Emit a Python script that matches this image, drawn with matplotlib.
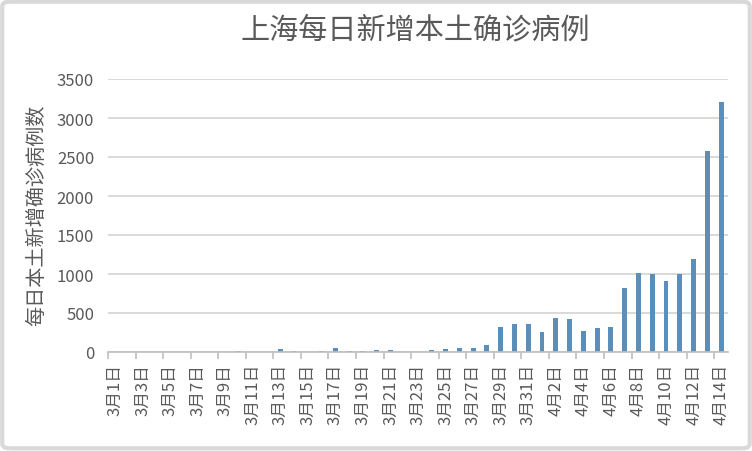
import matplotlib
matplotlib.use("Agg")
import matplotlib.pyplot as plt
from matplotlib.patches import FancyBboxPatch
import numpy as np

plt.rcParams['font.family'] = ['Noto Sans CJK SC', 'DejaVu Sans']
plt.rcParams['font.weight'] = 'light'

dates = [f"3月{d}日" for d in range(1, 32)] + [f"4月{d}日" for d in range(1, 15)]
cases = [1, 3, 2, 3, 0, 3, 4, 3, 4, 11, 5, 1, 41, 9, 5, 8, 57, 8, 17, 24,
         31, 4, 4, 29, 38, 45, 50, 96, 326, 355, 358,
         260, 438, 425, 268, 311, 322, 824, 1015, 1006, 914, 994, 1189, 2573, 3200]
yticks = [0, 500, 1000, 1500, 2000, 2500, 3000, 3500]
title = "上海每日新增本土确诊病例"
ylabel = "每日本土新增确诊病例数"

txt = '#595959'
fig = plt.figure(figsize=(7.52, 4.52), dpi=100)
ax = fig.add_axes([108/752, 99/452, 620/752, 273/452])

x = np.arange(len(dates))
ax.bar(x, cases, width=0.36, color='#5b8fba', zorder=3)

ax.set_xlim(-0.5, len(dates) - 0.5)
ax.set_ylim(0, 3500)
ax.set_yticks(yticks)
ax.set_yticklabels([str(v) for v in yticks], fontsize=12, color=txt)
ax.yaxis.grid(True, color='#d9d9d9', linewidth=1.4, zorder=0)
ax.tick_params(axis='y', length=0, pad=10)

ax.set_xticks(x[::2])
ax.set_xticklabels(dates[::2], rotation=90, fontsize=12, color=txt, va='top', ha='center')
ax.set_xticks(np.arange(-0.5, len(dates) - 1, 2), minor=True)
ax.tick_params(axis='x', which='major', length=0, pad=8)
ax.tick_params(axis='x', which='minor', length=5, color='#bfbfbf', width=1.2)

for s in ['top', 'right', 'left']:
    ax.spines[s].set_visible(False)
ax.spines['bottom'].set_color('#bfbfbf')
ax.spines['bottom'].set_linewidth(1.2)
ax.spines['bottom'].set_zorder(4)

fig.text(415/752, 1 - 30/452, title, fontsize=21, color=txt, ha='center', va='center')
fig.text(37/752, 1 - 215/452, ylabel, fontsize=14.5, color=txt, rotation=90,
         ha='center', va='center')

frame = FancyBboxPatch((0.003, 0.006), 0.994, 0.988, boxstyle="round,pad=0,rounding_size=0.01",
                       transform=fig.transFigure, fill=False, edgecolor='#d9d9d9', linewidth=3)
fig.patches.append(frame)

fig.savefig('out.png', dpi=100)
